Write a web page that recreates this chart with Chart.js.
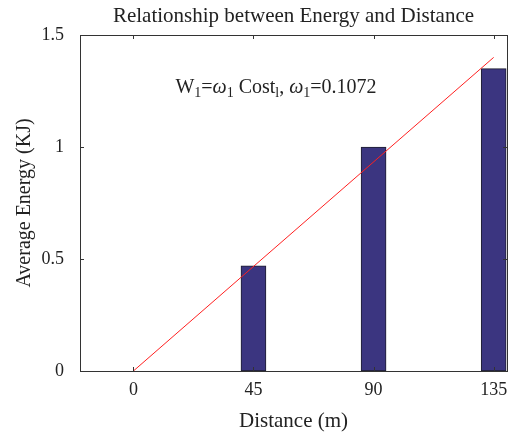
<!DOCTYPE html>
<html>
<head>
<meta charset="utf-8">
<script src="https://cdn.jsdelivr.net/npm/chart.js@4.4.1/dist/chart.umd.min.js"></script>
<style>
  html, body { margin: 0; padding: 0; background: #fff; }
  #wrap { width: 519px; height: 434px; }
</style>
</head>
<body>
<div id="wrap"><canvas id="myChart" width="519" height="434"></canvas></div>
<script>
const distances = [0, 45, 90, 135];
const energies = [0, 0.47, 1.0, 1.35];

const fitX = [0, 135];
const fitY = [0, 1.40];

const xTicks = [0, 45, 90, 135];
const yTicks = [0, 0.5, 1, 1.5];
const yTickLabels = ['0', '0.5', '1', '1.5'];

const serif = '"Liberation Serif", "DejaVu Serif", serif';

// box, inward ticks (mirrored), title and formula text
const decor = {
    id: 'decor',
    afterDraw(c) {
        const ctx = c.ctx;
        const a = c.chartArea;
        const xs = c.scales.x;
        const ys = c.scales.y;
        ctx.save();
        ctx.strokeStyle = '#333';
        ctx.lineWidth = 1;
        ctx.strokeRect(a.left + 0.5, a.top + 0.5, a.right - a.left, a.bottom - a.top);

        ctx.beginPath();
        xTicks.forEach(v => {
            const px = Math.round(xs.getPixelForValue(v)) + 0.5;
            ctx.moveTo(px, a.bottom);
            ctx.lineTo(px, a.bottom - 4);
            ctx.moveTo(px, a.top);
            ctx.lineTo(px, a.top + 4);
        });
        yTicks.forEach(v => {
            const py = Math.round(ys.getPixelForValue(v)) + 0.5;
            ctx.moveTo(a.left, py);
            ctx.lineTo(a.left + 4, py);
            ctx.moveTo(a.right, py);
            ctx.lineTo(a.right - 4, py);
        });
        ctx.stroke();

        ctx.fillStyle = '#222';
        ctx.font = '21px ' + serif;
        ctx.textAlign = 'center';
        ctx.textBaseline = 'alphabetic';
        ctx.fillText('Relationship between Energy and Distance', (a.left + a.right) / 2, 22);

        // formula with subscripts
        const parts = [
            ['W', 'n'], ['1', 's'], ['=', 'n'], ['ω', 'i'], ['1', 's'],
            [' Cost', 'n'], ['l', 's'], [', ', 'n'], ['ω', 'i'], ['1', 's'], ['=0.1072', 'n']
        ];
        const fonts = {
            n: '20px ' + serif,
            i: 'italic 20px ' + serif,
            s: '14px ' + serif
        };
        let total = 0;
        parts.forEach(p => { ctx.font = fonts[p[1]]; total += ctx.measureText(p[0]).width; });
        let x = 276 - total / 2;
        const base = 93;
        ctx.textAlign = 'left';
        parts.forEach(p => {
            ctx.font = fonts[p[1]];
            ctx.fillText(p[0], x, p[1] === 's' ? base + 4 : base);
            x += ctx.measureText(p[0]).width;
        });
        ctx.restore();
    }
};

new Chart(document.getElementById('myChart'), {
    type: 'bar',
    data: {
        datasets: [
            {
                type: 'line',
                label: 'Fit',
                data: fitX.map((v, i) => ({ x: v, y: fitY[i] })),
                borderColor: '#ff2020',
                borderWidth: 1,
                pointRadius: 0,
                order: 0
            },
            {
                label: 'Average Energy',
                data: distances.map((v, i) => ({ x: v, y: energies[i] })),
                backgroundColor: '#3b3580',
                borderColor: '#1e1e2e',
                borderWidth: 1,
                borderSkipped: false,
                barThickness: 25,
                order: 1
            }
        ]
    },
    options: {
        responsive: false,
        animation: false,
        layout: { padding: { top: 35, right: 12, left: 9, bottom: 0 } },
        plugins: {
            legend: { display: false },
            title: { display: false },
            tooltip: { enabled: false }
        },
        scales: {
            x: {
                type: 'linear',
                min: -20,
                max: 140,
                offset: false,
                grid: { display: false, offset: false },
                border: { display: false },
                afterBuildTicks: s => { s.ticks = xTicks.map(v => ({ value: v })); },
                afterFit: s => { s.height = 63; },
                ticks: { color: '#222', font: { family: serif, size: 18 }, padding: 0, maxRotation: 0 },
                title: { display: true, text: 'Distance (m)', color: '#222', font: { family: serif, size: 21 }, padding: { top: 4, bottom: 0 } }
            },
            y: {
                min: 0,
                max: 1.5,
                grid: { display: false },
                border: { display: false },
                afterBuildTicks: s => { s.ticks = yTicks.map(v => ({ value: v })); },
                afterFit: s => { s.width = 71; },
                ticks: {
                    color: '#222',
                    font: { family: serif, size: 18 },
                    padding: 8,
                    callback: (v) => yTickLabels[yTicks.indexOf(v)]
                },
                title: { display: true, text: 'Average Energy (KJ)', color: '#222', font: { family: serif, size: 20 }, padding: { bottom: 2 } }
            }
        }
    },
    plugins: [decor]
});
</script>
</body>
</html>
